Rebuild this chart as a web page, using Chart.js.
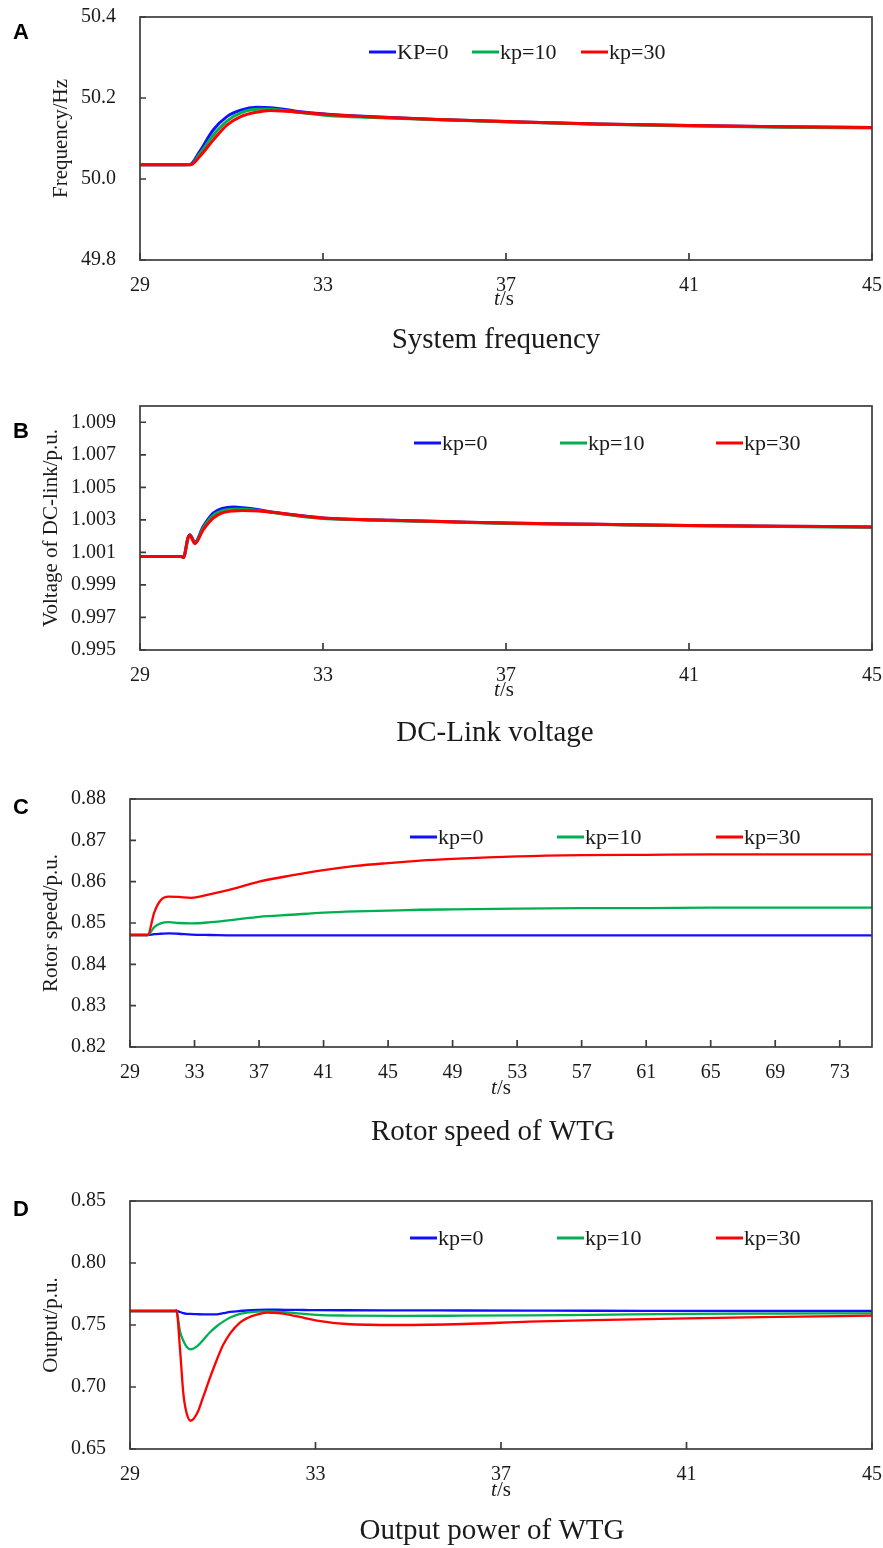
<!DOCTYPE html>
<html>
<head>
<meta charset="utf-8">
<script src="https://cdn.jsdelivr.net/npm/chart.js@4.4.1/dist/chart.umd.min.js"></script>
<style>
  body { margin: 0; background: #fff; width: 883px; height: 1548px; position: relative; }
  canvas { position: absolute; left: 0; }
</style>
</head>
<body>
<canvas id="chartA" width="883" height="387" style="top:0px"></canvas>
<canvas id="chartB" width="883" height="388" style="top:387px"></canvas>
<canvas id="chartC" width="883" height="385" style="top:775px"></canvas>
<canvas id="chartD" width="883" height="388" style="top:1160px"></canvas>
<script>
// ---- data ----
const labelsA = ['KP=0', 'kp=10', 'kp=30'];
const labelsBCD = ['kp=0', 'kp=10', 'kp=30'];
const lineColors = ['#1010ff', '#00b050', '#ff0000'];

// A: system frequency (Hz)
const timeA = [29, 30, 30.1, 30.3, 30.6, 30.9, 31.2, 31.55, 31.85, 32.1, 32.5, 33.1, 34.1, 35.5, 37, 39, 41, 43, 45];
const freqKp0 = [50.035, 50.035, 50.036, 50.067, 50.121, 50.154, 50.170, 50.177, 50.176, 50.173, 50.166, 50.160, 50.154, 50.147, 50.142, 50.136, 50.132, 50.129, 50.127];
const freqKp10 = [50.035, 50.035, 50.035, 50.061, 50.108, 50.143, 50.163, 50.172, 50.172, 50.170, 50.164, 50.157, 50.152, 50.146, 50.141, 50.135, 50.131, 50.128, 50.126];
const freqKp30 = [50.035, 50.035, 50.035, 50.055, 50.096, 50.133, 50.154, 50.165, 50.169, 50.168, 50.165, 50.159, 50.153, 50.147, 50.142, 50.136, 50.132, 50.129, 50.127];

// B: DC-link voltage (p.u.)
const timeB = [29, 29.9, 29.95, 30.05, 30.09, 30.2, 30.38, 30.6, 30.8, 31.04, 31.25, 31.6, 31.9, 32.3, 32.64, 33.0, 33.4, 34.5, 35.6, 37, 39, 41, 43, 45];
const vdcKp0 = [1.00075, 1.00075, 1.00069, 1.0019, 1.00208, 1.00163, 1.00259, 1.00342, 1.00370, 1.00379, 1.00375, 1.00362, 1.00347, 1.00333, 1.00322, 1.00312, 1.00306, 1.00297, 1.00290, 1.00280, 1.00273, 1.00266, 1.00261, 1.00256];
const vdcKp10 = [1.00075, 1.00075, 1.00069, 1.0019, 1.00206, 1.00157, 1.00249, 1.00327, 1.00357, 1.00366, 1.00366, 1.00357, 1.00345, 1.00330, 1.00318, 1.00309, 1.00304, 1.00295, 1.00288, 1.00278, 1.00271, 1.00264, 1.00259, 1.00254];
const vdcKp30 = [1.00075, 1.00075, 1.00069, 1.0019, 1.00205, 1.00153, 1.00239, 1.00311, 1.00343, 1.00355, 1.00358, 1.00355, 1.00347, 1.00333, 1.00321, 1.00311, 1.00306, 1.00297, 1.00290, 1.00280, 1.00273, 1.00266, 1.00261, 1.00256];

// C: rotor speed (p.u.)
const timeC = [29, 30.1, 30.5, 30.9, 31.4, 32, 32.8, 34, 35.5, 37, 39, 41, 43, 45, 47, 49, 53, 57, 61, 65, 69, 75];
const speedKp0 = [0.8471, 0.8471, 0.8473, 0.8474, 0.8475, 0.8474, 0.8472, 0.8471, 0.8470, 0.8470, 0.8470, 0.8470, 0.8470, 0.8470, 0.8470, 0.8470, 0.8470, 0.8470, 0.8470, 0.8470, 0.8470, 0.8470];
const speedKp10 = [0.8471, 0.8471, 0.8490, 0.8499, 0.8502, 0.8500, 0.8499, 0.8502, 0.8508, 0.8515, 0.8520, 0.8525, 0.8528, 0.8530, 0.8532, 0.8533, 0.8535, 0.8536, 0.8536, 0.8537, 0.8537, 0.8537];
const speedKp30 = [0.8471, 0.8471, 0.8525, 0.8555, 0.8564, 0.8563, 0.8561, 0.8570, 0.8584, 0.8600, 0.8615, 0.8628, 0.8638, 0.8645, 0.8651, 0.8655, 0.8661, 0.8664, 0.8665, 0.8666, 0.8666, 0.8666];

// D: output power (p.u.)
const timeD = [29, 29.98, 30.0, 30.08, 30.15, 30.22, 30.31, 30.45, 30.58, 30.72, 30.87, 31.01, 31.16, 31.37, 31.52, 31.75, 31.95, 32.2, 32.45, 32.75, 33.03, 33.67, 34.75, 36.2, 37.6, 39, 41, 43, 45];
const powerKp0 = [0.7613, 0.7613, 0.7613, 0.7605, 0.7595, 0.7590, 0.7589, 0.7587, 0.7586, 0.7586, 0.7586, 0.7595, 0.7605, 0.7613, 0.7617, 0.7621, 0.7623, 0.7623, 0.7622, 0.7621, 0.7620, 0.7619, 0.7618, 0.7617, 0.7616, 0.7615, 0.7614, 0.7613, 0.7613];
const powerKp10 = [0.7613, 0.7613, 0.7613, 0.7446, 0.7373, 0.7325, 0.7304, 0.7330, 0.7380, 0.7440, 0.7490, 0.7527, 0.7560, 0.7589, 0.7600, 0.7608, 0.7610, 0.7606, 0.7600, 0.7590, 0.7582, 0.7576, 0.7573, 0.7575, 0.7578, 0.7582, 0.7589, 0.7592, 0.7594];
const powerKp30 = [0.7613, 0.7613, 0.7620, 0.7298, 0.6949, 0.6790, 0.6728, 0.6790, 0.6922, 0.7070, 0.7218, 0.7340, 0.7433, 0.7520, 0.7554, 0.7585, 0.7599, 0.7595, 0.7581, 0.7558, 0.7535, 0.7508, 0.7500, 0.7508, 0.7527, 0.7540, 0.7554, 0.7565, 0.7575];

// tick values
const xTicksShort = [29, 33, 37, 41, 45];
const xTicksLong = [29, 33, 37, 41, 45, 49, 53, 57, 61, 65, 69, 73];
const yTicksA = [49.8, 50.0, 50.2, 50.4];
const yTicksB = [0.995, 0.997, 0.999, 1.001, 1.003, 1.005, 1.007, 1.009];
const yTicksC = [0.82, 0.83, 0.84, 0.85, 0.86, 0.87, 0.88];
const yTicksD = [0.65, 0.70, 0.75, 0.80, 0.85];

const serif = "'Liberation Serif', 'Times New Roman', serif";
const ink = '#1a1a1a';

// ---- panels: layout in page pixels ----
const panels = [
  { id: 'chartA', top: 0, letter: 'A', letterY: 33, area: [140, 17, 260],
    time: timeA, series: [freqKp0, freqKp10, freqKp30], names: labelsA,
    xMax: 45, xTicks: xTicksShort, yMin: 49.8, yMax: 50.4, yTicks: yTicksA, dec: 1,
    yTitle: 'Frequency/Hz', yTitlePad: 49, title: 'System frequency', titleX: 496, titleY: 340,
    tsX: 504, tsY: 299, legX: [369, 472, 581], legY: 52, lw: 3 },
  { id: 'chartB', top: 387, letter: 'B', letterY: 432, area: [140, 406, 650],
    time: timeB, series: [vdcKp0, vdcKp10, vdcKp30], names: labelsBCD,
    xMax: 45, xTicks: xTicksShort, yMin: 0.995, yMax: 1.010, yTicks: yTicksB, dec: 3,
    yTitle: 'Voltage of DC-link/p.u.', yTitlePad: 39, title: 'DC-Link voltage', titleX: 495, titleY: 733,
    tsX: 504, tsY: 690, legX: [414, 560, 716], legY: 443, lw: 3 },
  { id: 'chartC', top: 775, letter: 'C', letterY: 808, area: [130, 799, 1047],
    time: timeC, series: [speedKp0, speedKp10, speedKp30], names: labelsBCD,
    xMax: 75, xTicks: xTicksLong, yMin: 0.82, yMax: 0.88, yTicks: yTicksC, dec: 2,
    yTitle: 'Rotor speed/p.u.', yTitlePad: 39, title: 'Rotor speed of WTG', titleX: 493, titleY: 1132,
    tsX: 501, tsY: 1088, legX: [410, 557, 716], legY: 837, lw: 2.3 },
  { id: 'chartD', top: 1160, letter: 'D', letterY: 1210, area: [130, 1201, 1449],
    time: timeD, series: [powerKp0, powerKp10, powerKp30], names: labelsBCD,
    xMax: 45, xTicks: xTicksShort, yMin: 0.65, yMax: 0.85, yTicks: yTicksD, dec: 2,
    yTitle: 'Output/p.u.', yTitlePad: 39, title: 'Output power of WTG', titleX: 492, titleY: 1531,
    tsX: 501, tsY: 1490, legX: [410, 557, 716], legY: 1238, lw: 2.3 }
];

function makeDecor(p) {
  return {
    id: 'decor',
    afterDraw(chart) {
      const ctx = chart.ctx;
      const a = chart.chartArea;
      const off = p.top;
      ctx.save();
      // frame
      ctx.strokeStyle = '#3c3c3c';
      ctx.lineWidth = 1.7;
      ctx.strokeRect(a.left, a.top, a.right - a.left, a.bottom - a.top);
      // inward ticks
      ctx.beginPath();
      p.yTicks.forEach(v => {
        const y = chart.scales.y.getPixelForValue(v);
        ctx.moveTo(a.left, y); ctx.lineTo(a.left + 6, y);
      });
      p.xTicks.forEach(v => {
        const x = chart.scales.x.getPixelForValue(v);
        ctx.moveTo(x, a.bottom); ctx.lineTo(x, a.bottom - 7);
      });
      ctx.stroke();
      // legend
      ctx.font = '22px ' + serif;
      ctx.textBaseline = 'middle';
      ctx.textAlign = 'left';
      chart.data.datasets.forEach((ds, i) => {
        const lx = p.legX[i], ly = p.legY - off;
        ctx.strokeStyle = ds.borderColor;
        ctx.lineWidth = 3;
        ctx.beginPath(); ctx.moveTo(lx, ly); ctx.lineTo(lx + 27, ly); ctx.stroke();
        ctx.fillStyle = ink;
        ctx.fillText(ds.label, lx + 28, ly + 1);
      });
      // t/s
      ctx.font = 'italic 21px ' + serif;
      const wt = ctx.measureText('t').width;
      ctx.font = '21px ' + serif;
      const ws = ctx.measureText('/s').width;
      let sx = p.tsX - (wt + ws) / 2;
      ctx.font = 'italic 21px ' + serif;
      ctx.fillText('t', sx, p.tsY - off);
      ctx.font = '21px ' + serif;
      ctx.fillText('/s', sx + wt, p.tsY - off);
      // panel title
      ctx.textAlign = 'center';
      ctx.font = '29px ' + serif;
      ctx.fillText(p.title, p.titleX, p.titleY - off);
      // panel letter
      ctx.font = "bold 22px 'Liberation Sans', Arial, sans-serif";
      ctx.fillStyle = '#000';
      ctx.fillText(p.letter, 21, p.letterY - off);
      ctx.restore();
    }
  };
}

// drop the label overhang padding so the layout padding alone sets the plot box
function noOverhang(s) {
  s.paddingTop = 0; s.paddingBottom = 0; s.paddingLeft = 0; s.paddingRight = 0;
}

panels.forEach(p => {
  const canvas = document.getElementById(p.id);
  const H = canvas.height;
  const areaTop = p.area[1] - p.top;
  const areaBottom = p.area[2] - p.top;
  const xAxisH = 40;
  new Chart(canvas.getContext('2d'), {
    type: 'line',
    data: {
      datasets: p.series.map((vals, i) => ({
        label: p.names[i],
        data: p.time.map((t, j) => ({ x: t, y: vals[j] })),
        borderColor: lineColors[i],
        backgroundColor: lineColors[i],
        borderWidth: p.lw,
        pointRadius: 0,
        cubicInterpolationMode: 'monotone',
        order: 3 - i
      }))
    },
    plugins: [makeDecor(p)],
    options: {
      responsive: false,
      animation: false,
      devicePixelRatio: 1,
      layout: { padding: { top: areaTop, left: 0, right: 883 - 872, bottom: H - areaBottom - xAxisH } },
      plugins: { legend: { display: false }, tooltip: { enabled: false }, title: { display: false } },
      scales: {
        x: {
          type: 'linear',
          min: 29, max: p.xMax,
          afterBuildTicks: s => { s.ticks = p.xTicks.map(v => ({ value: v })); },
          afterFit: s => { s.height = xAxisH; noOverhang(s); },
          grid: { display: false, drawTicks: false },
          border: { display: false },
          ticks: { padding: 14, color: ink, font: { family: serif, size: 20 }, maxRotation: 0, autoSkip: false,
                   callback: v => String(v) }
        },
        y: {
          min: p.yMin, max: p.yMax,
          afterBuildTicks: s => { s.ticks = p.yTicks.map(v => ({ value: v })); },
          afterFit: s => { s.width = p.area[0]; noOverhang(s); },
          grid: { display: false, drawTicks: false },
          border: { display: false },
          ticks: { padding: 24, color: ink, font: { family: serif, size: 20 }, autoSkip: false,
                   callback: v => Number(v).toFixed(p.dec) },
          title: { display: true, text: p.yTitle, color: ink, font: { family: serif, size: 21 },
                   padding: { top: p.yTitlePad, bottom: 0 } }
        }
      }
    }
  });
});
</script>
</body>
</html>
